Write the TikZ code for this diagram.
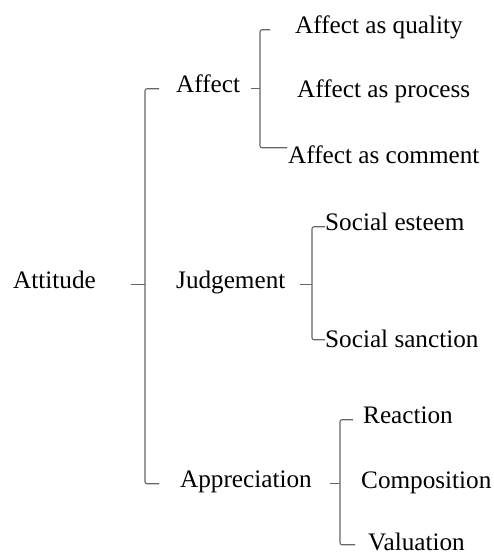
\documentclass[tikz,border=0pt]{standalone}
\usepackage{fontspec}
\setmainfont{Liberation Serif}
\usetikzlibrary{calc}
\begin{document}
\begin{tikzpicture}[x=1pt,y=-1pt,
  txt/.style={anchor=base west, inner sep=0pt, font=\fontsize{25.2}{30}\selectfont, text height=0.8em, text depth=0.15em},
  brk/.style={draw=black!60, line width=1.1pt, rounded corners=2pt}]
\useasboundingbox (0,0) rectangle (494,554);

\node[txt] (att) at (13,288){Attitude};

\node[txt] (aff) at (176,92){Affect};
\node[txt] (jud) at (176,288){Judgement};
\node[txt] (app) at (180,487){Appreciation};

\node[txt] (aff1) at (295,33){Affect as quality};
\node[txt] (aff2) at (297,97){Affect as process};
\node[txt] (aff3) at (288,163){Affect as comment};

\node[txt] (jud1) at (325,230){Social esteem};
\node[txt] (jud2) at (325,347){Social sanction};

\node[txt] (app1) at (363,423){Reaction};
\node[txt] (app2) at (361,488){Composition};
\node[txt] (app3) at (368,550){Valuation};

\coordinate (b0) at (145,0);
\coordinate (b1) at (260,0);
\coordinate (b2) at (312,0);
\coordinate (b3) at (340,0);

% Attitude
\draw[brk] ($(b0 |- aff.west)+(14,0)$) -- (b0 |- aff.west) -- (b0 |- app.west) -- ++(14,0);
\draw[brk] (b0 |- att.west) -- ++(-14,0);

% Affect
\draw[brk] ($(b1 |- aff1.west)+(10,0)$) -- (b1 |- aff1.west) -- ($(b1 |- aff3.west)+(0,-12)$) -- ++(27,0);
\draw[brk] (b1 |- aff.west) -- ++(-9,0);

% Judgement
\draw[brk] ($(b2 |- jud1.west)+(13,0)$) -- (b2 |- jud1.west) -- ($(b2 |- jud2.west)+(0,-4)$) -- ++(13,0);
\draw[brk] (b2 |- jud.west) -- ++(-12,0);

% Appreciation
\draw[brk] ($(b3 |- app1.west)+(13,0)$) -- (b3 |- app1.west) -- ($(b3 |- app3.west)+(0,-2)$) -- ++(15,0);
\draw[brk] (b3 |- app.west) -- ++(-10,0);

\end{tikzpicture}
\end{document}
